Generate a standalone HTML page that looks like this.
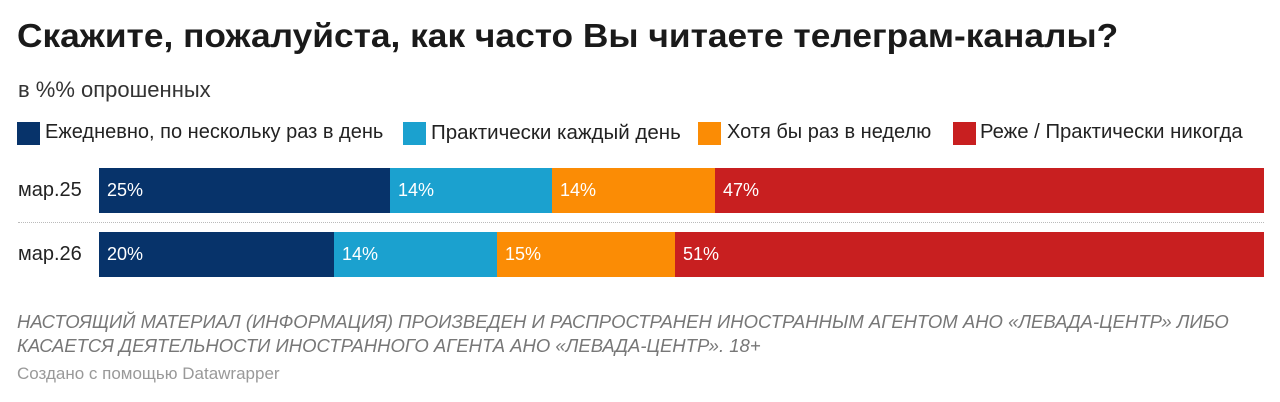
<!DOCTYPE html>
<html><head><meta charset="utf-8"><style>
body{margin:0;width:1280px;height:402px;background:#fff;font-family:"Liberation Sans","Noto Sans CJK SC",sans-serif;position:relative;overflow:hidden;color:#222}
.a{position:absolute;white-space:nowrap}
.sq{position:absolute;width:23px;height:23px;top:122px}
.lg{position:absolute;top:121px;font-size:20px;color:#222}
.bar{position:absolute;height:45px}
.v{position:absolute;color:#fff;font-size:18px;line-height:45px;padding-left:8px}
.lab{position:absolute;left:18px;font-size:20px;line-height:45px;color:#222}
</style></head><body>
<div class="a" style="left:17px;top:17px;font-size:33px;font-weight:bold;color:#1a1a1a;transform-origin:0 0;transform:scaleX(1.07)">Скажите, пожалуйста, как часто Вы читаете телеграм-каналы?</div>
<div class="a" style="left:18px;top:77px;font-size:22px;color:#333">в %% опрошенных</div>

<div class="sq" style="left:17px;background:#07336a"></div><div class="lg" style="left:45px">Ежедневно, по нескольку раз в день</div>
<div class="sq" style="left:403px;background:#1ba1cf"></div><div class="lg" style="left:431px;font-size:20.5px">Практически каждый день</div>
<div class="sq" style="left:698px;background:#fb8c05"></div><div class="lg" style="left:727px">Хотя бы раз в неделю</div>
<div class="sq" style="left:953px;background:#c81f20"></div><div class="lg" style="left:980px;font-size:20.3px">Реже / Практически никогда</div>

<div class="lab" style="top:168px">мар.25</div>
<div class="bar" style="top:168px;left:99px;width:291px;background:#07336a"><span class="v">25%</span></div>
<div class="bar" style="top:168px;left:390px;width:162px;background:#1ba1cf"><span class="v">14%</span></div>
<div class="bar" style="top:168px;left:552px;width:163px;background:#fb8c05"><span class="v">14%</span></div>
<div class="bar" style="top:168px;left:715px;width:549px;background:#c81f20"><span class="v">47%</span></div>

<div class="a" style="left:18px;top:222px;width:1246px;border-top:1px dotted #bbb"></div>

<div class="lab" style="top:232px">мар.26</div>
<div class="bar" style="top:232px;left:99px;width:235px;background:#07336a"><span class="v">20%</span></div>
<div class="bar" style="top:232px;left:334px;width:163px;background:#1ba1cf"><span class="v">14%</span></div>
<div class="bar" style="top:232px;left:497px;width:178px;background:#fb8c05"><span class="v">15%</span></div>
<div class="bar" style="top:232px;left:675px;width:589px;background:#c81f20"><span class="v">51%</span></div>

<div class="a" style="left:17px;top:310px;font-size:18.5px;font-style:italic;color:#777;line-height:24px">НАСТОЯЩИЙ МАТЕРИАЛ (ИНФОРМАЦИЯ) ПРОИЗВЕДЕН И РАСПРОСТРАНЕН ИНОСТРАННЫМ АГЕНТОМ АНО «ЛЕВАДА-ЦЕНТР» ЛИБО<br>КАСАЕТСЯ ДЕЯТЕЛЬНОСТИ ИНОСТРАННОГО АГЕНТА АНО «ЛЕВАДА-ЦЕНТР». 18+</div>
<div class="a" style="left:17px;top:364px;font-size:17px;color:#999">Создано с помощью Datawrapper</div>
</body></html>
